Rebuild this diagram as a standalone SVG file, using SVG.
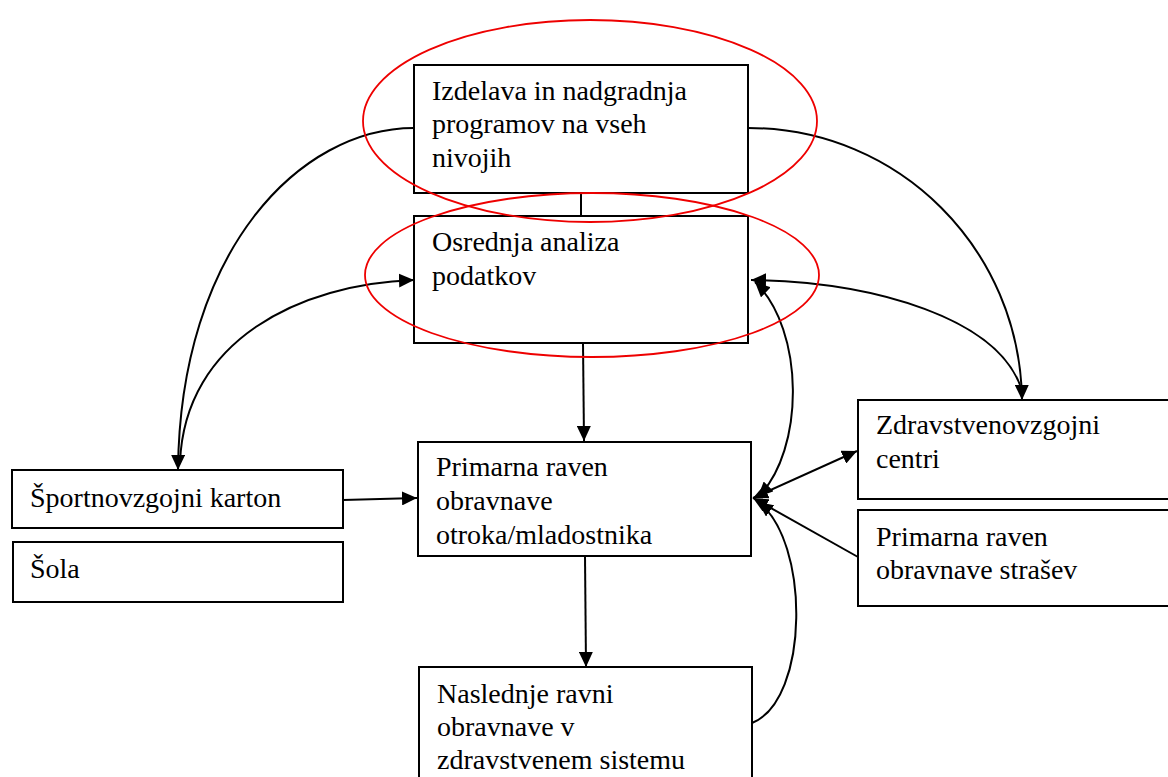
<svg xmlns="http://www.w3.org/2000/svg" width="1168" height="777" viewBox="0 0 1168 777">
<style>
.box{fill:#fff;stroke:#000;stroke-width:2}
.t{font-family:"Liberation Serif","Times New Roman",serif;font-size:28px;fill:#000}
.c{fill:none;stroke:#000;stroke-width:2}
.oval{fill:none;stroke:#e00;stroke-width:1.8}
</style>
<defs>
<marker id="ah" markerUnits="userSpaceOnUse" markerWidth="16" markerHeight="14" refX="15" refY="7" orient="auto-start-reverse">
<path d="M0,0 L15,7 L0,14 z" fill="#000"/>
</marker>
</defs>
<rect width="1168" height="777" fill="#fff"/>
<g id="n1"><rect class="box" x="414" y="65" width="334" height="128"/>
<text class="t" x="432" y="100">Izdelava in nadgradnja</text>
<text class="t" x="432" y="133">programov na vseh</text>
<text class="t" x="432" y="167">nivojih</text></g>
<g id="n2"><rect class="box" x="414" y="216" width="334" height="127"/>
<text class="t" x="432" y="251">Osrednja analiza</text>
<text class="t" x="432" y="285">podatkov</text></g>
<g id="n3"><rect class="box" x="418" y="442" width="333" height="114"/>
<text class="t" x="436" y="476">Primarna raven</text>
<text class="t" x="436" y="510">obravnave</text>
<text class="t" x="436" y="544">otroka/mladostnika</text></g>
<g id="n4"><rect class="box" x="419" y="667" width="333" height="130"/>
<text class="t" x="437" y="703">Naslednje ravni</text>
<text class="t" x="437" y="736">obravnave v</text>
<text class="t" x="437" y="769">zdravstvenem sistemu</text></g>
<g id="n5"><rect class="box" x="858" y="400" width="312" height="99"/>
<text class="t" x="876" y="434">Zdravstvenovzgojni</text>
<text class="t" x="876" y="468">centri</text></g>
<g id="n6"><rect class="box" x="858" y="510" width="312" height="96"/>
<text class="t" x="876" y="546">Primarna raven</text>
<text class="t" x="876" y="579">obravnave strašev</text></g>
<g id="n7"><rect class="box" x="12" y="470" width="331" height="58"/>
<text class="t" x="30" y="507">Športnovzgojni karton</text></g>
<g id="n8"><rect class="box" x="13" y="542" width="330" height="60"/>
<text class="t" x="30" y="578">Šola</text></g>
<g id="connectors">
<line class="c" x1="581" y1="193" x2="581" y2="216"/>
<line class="c" x1="583" y1="343" x2="584" y2="441" marker-end="url(#ah)"/>
<line class="c" x1="585" y1="556" x2="586" y2="667" marker-end="url(#ah)"/>
<line class="c" x1="343" y1="500" x2="417" y2="498" marker-end="url(#ah)"/>
<path class="c" d="M414,128 C300,128 180,250 178,470" marker-end="url(#ah)"/>
<path class="c" d="M180,462 C185,340 300,284 414,280" marker-end="url(#ah)"/>
<path class="c" d="M748,128 C900,128 1020,250 1022,400" marker-end="url(#ah)"/>
<path class="c" d="M1020,385 C995,320 880,282 751,280" marker-end="url(#ah)"/>
<path class="c" d="M758,497 C805,450 805,330 755,282" marker-start="url(#ah)" marker-end="url(#ah)"/>
<path class="c" d="M752,723 C810,700 810,540 758,502" marker-end="url(#ah)"/>
<line class="c" x1="753" y1="498" x2="857" y2="451" marker-start="url(#ah)" marker-end="url(#ah)"/>
<line class="c" x1="858" y1="557" x2="753" y2="498" marker-end="url(#ah)"/>
</g>
<g id="ovals">
<ellipse class="oval" cx="590" cy="121" rx="227" ry="101"/>
<ellipse class="oval" cx="592" cy="275" rx="227" ry="82"/>
</g>
</svg>
